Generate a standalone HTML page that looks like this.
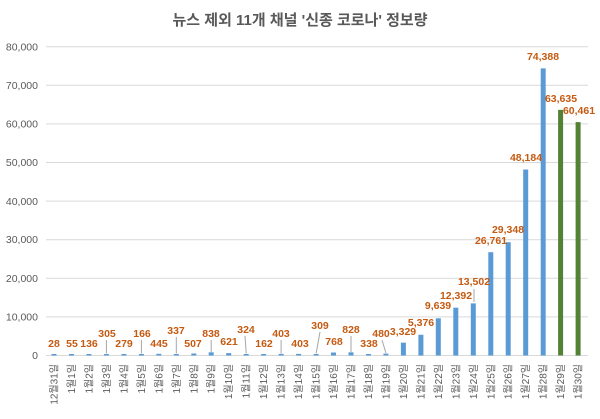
<!DOCTYPE html>
<html><head><meta charset="utf-8"><style>
body{margin:0;background:#fff;}
svg text{font-family:"Liberation Sans","Noto Sans CJK KR",sans-serif;}
</style></head><body>
<svg width="600" height="414" viewBox="0 0 600 414" xmlns="http://www.w3.org/2000/svg">
<rect width="600" height="414" fill="#fff"/>
<text x="300" y="25" text-anchor="middle" font-size="15" font-weight="bold" fill="#595959">뉴스 제외 11개 채널 '신종 코로나' 정보량</text>
<g stroke="#d9d9d9" stroke-width="1">
<line x1="46" x2="588" y1="355.5" y2="355.5"/>
<line x1="46" x2="588" y1="316.9" y2="316.9"/>
<line x1="46" x2="588" y1="278.3" y2="278.3"/>
<line x1="46" x2="588" y1="239.7" y2="239.7"/>
<line x1="46" x2="588" y1="201.1" y2="201.1"/>
<line x1="46" x2="588" y1="162.5" y2="162.5"/>
<line x1="46" x2="588" y1="123.9" y2="123.9"/>
<line x1="46" x2="588" y1="85.3" y2="85.3"/>
<line x1="46" x2="588" y1="46.7" y2="46.7"/>
</g>
<g font-size="10.5" fill="#595959" text-anchor="end">
<text x="38" y="359">0</text>
<text x="38" y="320.5">10,000</text>
<text x="38" y="282">20,000</text>
<text x="38" y="243">30,000</text>
<text x="38" y="205">40,000</text>
<text x="38" y="166">50,000</text>
<text x="38" y="127.5">60,000</text>
<text x="38" y="89">70,000</text>
<text x="38" y="50.5">80,000</text>
</g>
<g fill="#5B9BD5">
<rect x="51.5" y="354" width="5" height="1.5"/>
<rect x="69" y="354" width="5" height="1.5"/>
<rect x="86.4" y="354" width="5" height="1.5"/>
<rect x="103.9" y="354" width="5" height="1.5"/>
<rect x="121.4" y="354" width="5" height="1.5"/>
<rect x="138.9" y="354" width="5" height="1.5"/>
<rect x="156.3" y="353.8" width="5" height="1.7"/>
<rect x="173.8" y="354" width="5" height="1.5"/>
<rect x="191.3" y="353.5" width="5" height="2"/>
<rect x="208.7" y="352.3" width="5" height="3.2"/>
<rect x="226.2" y="353.1" width="5" height="2.4"/>
<rect x="243.7" y="354" width="5" height="1.5"/>
<rect x="261.1" y="354" width="5" height="1.5"/>
<rect x="278.6" y="353.9" width="5" height="1.6"/>
<rect x="296.1" y="353.9" width="5" height="1.6"/>
<rect x="313.6" y="354" width="5" height="1.5"/>
<rect x="331" y="352.5" width="5" height="3"/>
<rect x="348.5" y="352.3" width="5" height="3.2"/>
<rect x="366" y="354" width="5" height="1.5"/>
<rect x="383.4" y="353.6" width="5" height="1.9"/>
<rect x="400.9" y="342.65" width="5" height="12.85"/>
<rect x="418.4" y="334.75" width="5" height="20.75"/>
<rect x="435.8" y="318.29" width="5" height="37.21"/>
<rect x="453.3" y="307.67" width="5" height="47.83"/>
<rect x="470.8" y="303.38" width="5" height="52.12"/>
<rect x="488.3" y="252.2" width="5" height="103.3"/>
<rect x="505.7" y="242.22" width="5" height="113.28"/>
<rect x="523.2" y="169.51" width="5" height="185.99"/>
<rect x="540.7" y="68.36" width="5" height="287.14"/>
</g>
<g fill="#548235">
<rect x="558.1" y="109.87" width="5" height="245.63"/>
<rect x="575.6" y="122.12" width="5" height="233.38"/>
</g>
<g stroke="#a6a6a6" stroke-width="1">
<line x1="106.4" y1="340" x2="106.4" y2="353.5"/>
<line x1="141.4" y1="340" x2="141.4" y2="353.5"/>
<line x1="176.3" y1="337" x2="176.3" y2="353.5"/>
<line x1="211.2" y1="340" x2="211.2" y2="352"/>
<line x1="245" y1="336" x2="246.2" y2="353.5"/>
<line x1="281.1" y1="340" x2="281.1" y2="353.5"/>
<line x1="320" y1="332" x2="316.1" y2="353.5"/>
<line x1="351" y1="336" x2="351" y2="352"/>
<line x1="382" y1="340" x2="385.9" y2="353"/>
<line x1="474" y1="289" x2="474" y2="302"/>
</g>
<g font-size="10.5" font-weight="bold" fill="#C55A11" text-anchor="middle">
<text x="54" y="347">28</text>
<text x="72" y="347">55</text>
<text x="89" y="347">136</text>
<text x="107" y="337">305</text>
<text x="124" y="347">279</text>
<text x="142" y="337">166</text>
<text x="159" y="347">445</text>
<text x="176" y="334">337</text>
<text x="193" y="347">507</text>
<text x="211" y="337">838</text>
<text x="229" y="345">621</text>
<text x="246" y="333">324</text>
<text x="264" y="347">162</text>
<text x="281" y="337">403</text>
<text x="300" y="347">403</text>
<text x="320" y="329">309</text>
<text x="334" y="345">768</text>
<text x="351" y="333">828</text>
<text x="369" y="347">338</text>
<text x="381" y="337">480</text>
<text x="403" y="335">3,329</text>
<text x="421" y="326">5,376</text>
<text x="438" y="309">9,639</text>
<text x="456" y="299">12,392</text>
<text x="474" y="285">13,502</text>
<text x="491" y="244">26,761</text>
<text x="508" y="233">29,348</text>
<text x="526" y="161">48,184</text>
<text x="543" y="60">74,388</text>
<text x="561" y="102">63,635</text>
<text x="579" y="114">60,461</text>
</g>
<g font-size="10" fill="#595959" text-anchor="end">
<text transform="translate(57.5,364) rotate(-90)">12월31일</text>
<text transform="translate(75,364) rotate(-90)">1월1일</text>
<text transform="translate(92.4,364) rotate(-90)">1월2일</text>
<text transform="translate(109.9,364) rotate(-90)">1월3일</text>
<text transform="translate(127.4,364) rotate(-90)">1월4일</text>
<text transform="translate(144.9,364) rotate(-90)">1월5일</text>
<text transform="translate(162.3,364) rotate(-90)">1월6일</text>
<text transform="translate(179.8,364) rotate(-90)">1월7일</text>
<text transform="translate(197.3,364) rotate(-90)">1월8일</text>
<text transform="translate(214.7,364) rotate(-90)">1월9일</text>
<text transform="translate(232.2,364) rotate(-90)">1월10일</text>
<text transform="translate(249.7,364) rotate(-90)">1월11일</text>
<text transform="translate(267.1,364) rotate(-90)">1월12일</text>
<text transform="translate(284.6,364) rotate(-90)">1월13일</text>
<text transform="translate(302.1,364) rotate(-90)">1월14일</text>
<text transform="translate(319.6,364) rotate(-90)">1월15일</text>
<text transform="translate(337,364) rotate(-90)">1월16일</text>
<text transform="translate(354.5,364) rotate(-90)">1월17일</text>
<text transform="translate(372,364) rotate(-90)">1월18일</text>
<text transform="translate(389.4,364) rotate(-90)">1월19일</text>
<text transform="translate(406.9,364) rotate(-90)">1월20일</text>
<text transform="translate(424.4,364) rotate(-90)">1월21일</text>
<text transform="translate(441.8,364) rotate(-90)">1월22일</text>
<text transform="translate(459.3,364) rotate(-90)">1월23일</text>
<text transform="translate(476.8,364) rotate(-90)">1월24일</text>
<text transform="translate(494.3,364) rotate(-90)">1월25일</text>
<text transform="translate(511.7,364) rotate(-90)">1월26일</text>
<text transform="translate(529.2,364) rotate(-90)">1월27일</text>
<text transform="translate(546.7,364) rotate(-90)">1월28일</text>
<text transform="translate(564.1,364) rotate(-90)">1월29일</text>
<text transform="translate(581.6,364) rotate(-90)">1월30일</text>
</g>
</svg>
</body></html>
